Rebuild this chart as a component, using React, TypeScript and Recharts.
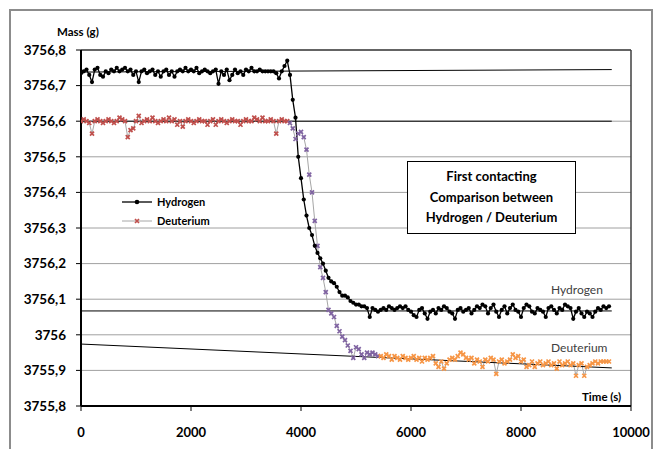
import React from 'react';
import { ComposedChart, Line, XAxis, YAxis, CartesianGrid, ReferenceLine } from 'recharts';

// sampling interval of the mass readings (s)
const SAMPLE_STEP_S = 50;

// Hydrogen mass readings (g), one every SAMPLE_STEP_S seconds starting at 0 s
const hydrogenMass = [
  3756.735, 3756.74, 3756.745, 3756.73, 3756.71, 3756.745, 3756.75, 3756.73, 3756.725, 3756.74,
  3756.735, 3756.745, 3756.74, 3756.75, 3756.74, 3756.745, 3756.75, 3756.74, 3756.745, 3756.73,
  3756.74, 3756.71, 3756.74, 3756.745, 3756.735, 3756.74, 3756.745, 3756.73, 3756.74, 3756.725,
  3756.74, 3756.745, 3756.73, 3756.74, 3756.725, 3756.74, 3756.745, 3756.74, 3756.75, 3756.74,
  3756.745, 3756.74, 3756.75, 3756.735, 3756.74, 3756.745, 3756.74, 3756.735, 3756.74, 3756.745,
  3756.705, 3756.74, 3756.73, 3756.745, 3756.715, 3756.73, 3756.745, 3756.735, 3756.74, 3756.73,
  3756.745, 3756.74, 3756.75, 3756.74, 3756.74, 3756.745, 3756.74, 3756.74, 3756.74, 3756.74,
  3756.74, 3756.735, 3756.72, 3756.74, 3756.755, 3756.77,
  3756.73, 3756.66, 3756.61, 3756.5, 3756.44, 3756.38, 3756.335, 3756.3, 3756.28, 3756.25,
  3756.23, 3756.215, 3756.2, 3756.18, 3756.16, 3756.15, 3756.145, 3756.135, 3756.12, 3756.11,
  3756.11, 3756.105, 3756.095, 3756.09, 3756.085, 3756.085, 3756.08, 3756.08, 3756.075, 3756.05,
  3756.075, 3756.07, 3756.065, 3756.07, 3756.075, 3756.07, 3756.08, 3756.075, 3756.07, 3756.075,
  3756.08, 3756.075, 3756.08, 3756.07, 3756.065, 3756.055, 3756.05, 3756.07, 3756.075, 3756.06,
  3756.045, 3756.065, 3756.07, 3756.06, 3756.075, 3756.07, 3756.08, 3756.075, 3756.065, 3756.06,
  3756.045, 3756.07, 3756.075, 3756.065, 3756.07, 3756.075, 3756.06, 3756.07, 3756.08, 3756.075,
  3756.085, 3756.08, 3756.06, 3756.075, 3756.085, 3756.065, 3756.05, 3756.07, 3756.08, 3756.06,
  3756.075, 3756.085, 3756.07, 3756.065, 3756.05, 3756.075, 3756.085, 3756.08, 3756.065, 3756.06,
  3756.075, 3756.07, 3756.065, 3756.05, 3756.075, 3756.08, 3756.07, 3756.06, 3756.075, 3756.07,
  3756.085, 3756.08, 3756.075, 3756.045, 3756.065, 3756.075, 3756.06, 3756.05, 3756.065, 3756.06,
  3756.05, 3756.065, 3756.075, 3756.07, 3756.08, 3756.075, 3756.08,
];

// Deuterium mass readings (g), one every SAMPLE_STEP_S seconds starting at 0 s
const deuteriumMass = [
  3756.6, 3756.605, 3756.6, 3756.595, 3756.565, 3756.6, 3756.605, 3756.6, 3756.595, 3756.6,
  3756.605, 3756.6, 3756.595, 3756.6, 3756.61, 3756.605, 3756.6, 3756.555, 3756.575, 3756.58,
  3756.6, 3756.615, 3756.595, 3756.6, 3756.605, 3756.6, 3756.61, 3756.6, 3756.595, 3756.6,
  3756.605, 3756.6, 3756.61, 3756.6, 3756.605, 3756.59, 3756.6, 3756.585, 3756.6, 3756.605,
  3756.6, 3756.595, 3756.6, 3756.605, 3756.6, 3756.6, 3756.59, 3756.6, 3756.605, 3756.59,
  3756.6, 3756.605, 3756.6, 3756.595, 3756.6, 3756.605, 3756.6, 3756.6, 3756.59, 3756.6,
  3756.605, 3756.6, 3756.6, 3756.61, 3756.605, 3756.6, 3756.61, 3756.6, 3756.6, 3756.605,
  3756.6, 3756.565, 3756.6, 3756.605, 3756.6, 3756.6,
  3756.595, 3756.58, 3756.55, 3756.565, 3756.57, 3756.555, 3756.52, 3756.45, 3756.4, 3756.32,
  3756.25, 3756.19, 3756.16, 3756.12, 3756.07, 3756.06, 3756.05, 3756.025, 3756.01, 3755.995,
  3755.985, 3755.97, 3755.955, 3755.935, 3755.965, 3755.96, 3755.945, 3755.935, 3755.95, 3755.945,
  3755.95, 3755.945, 3755.94,
  3755.94, 3755.935, 3755.945, 3755.94, 3755.93, 3755.94, 3755.935, 3755.93, 3755.94, 3755.935,
  3755.93, 3755.935, 3755.94, 3755.93, 3755.935, 3755.925, 3755.935, 3755.93, 3755.935, 3755.94,
  3755.92, 3755.91, 3755.925, 3755.905, 3755.92, 3755.93, 3755.935, 3755.93, 3755.94, 3755.95,
  3755.945, 3755.935, 3755.93, 3755.935, 3755.92, 3755.93, 3755.925, 3755.91, 3755.93, 3755.925,
  3755.935, 3755.93, 3755.89, 3755.925, 3755.93, 3755.92, 3755.925, 3755.93, 3755.945, 3755.935,
  3755.94, 3755.925, 3755.93, 3755.91, 3755.915, 3755.925, 3755.91, 3755.92, 3755.925, 3755.915,
  3755.92, 3755.925, 3755.915, 3755.92, 3755.905, 3755.925, 3755.915, 3755.92, 3755.925, 3755.915,
  3755.92, 3755.885, 3755.915, 3755.92, 3755.885, 3755.91, 3755.915, 3755.92, 3755.925, 3755.92,
  3755.925, 3755.925, 3755.925, 3755.925,
];

// Deuterium marker colour phases (end time in s of each phase)
const deuteriumPhases = [
  { until: 3750, color: '#c0504d' },
  { until: 5400, color: '#8064a2' },
  { until: 99999, color: '#f79646' },
];

// straight reference/trend lines (time s, mass g)
const trendTop = [{ t: 0, v: 3756.738 }, { t: 9650, v: 3756.745 }];
const trendMid = [{ t: 0, v: 3756.6 }, { t: 9650, v: 3756.6 }];
const trendHydrogen = [{ t: 0, v: 3756.067 }, { t: 9650, v: 3756.067 }];
const trendDeuterium = [{ t: 0, v: 3755.974 }, { t: 9650, v: 3755.907 }];

const xTicks = [0, 2000, 4000, 6000, 8000, 10000];
const yTicks = [3755.8, 3755.9, 3756, 3756.1, 3756.2, 3756.3, 3756.4, 3756.5, 3756.6, 3756.7, 3756.8];

const hydrogenData = hydrogenMass.map((v, i) => ({ t: i * SAMPLE_STEP_S, v }));
const deuteriumData = deuteriumMass.map((v, i) => ({ t: i * SAMPLE_STEP_S, v }));

const FONT = 'Lato, "Liberation Sans", sans-serif';

const fmtY = (v: number) => {
  const r = Number(v.toFixed(1));
  return Number.isInteger(r) ? String(r) : r.toFixed(1).replace('.', ',');
};

const phaseColor = (t: number) => {
  for (const p of deuteriumPhases) if (t <= p.until) return p.color;
  return deuteriumPhases[deuteriumPhases.length - 1].color;
};

const HydrogenDot = (props: any) => {
  const { cx, cy, index } = props;
  if (cx == null || cy == null) return <g key={`h${index}`} />;
  return <circle key={`h${index}`} cx={cx} cy={cy} r={2.1} fill="#000" stroke="none" />;
};

const DeuteriumDot = (props: any) => {
  const { cx, cy, index, payload } = props;
  if (cx == null || cy == null) return <g key={`d${index}`} />;
  const c = phaseColor(payload.t);
  const s = 2;
  return (
    <path
      key={`d${index}`}
      d={`M${cx - s},${cy - s}L${cx + s},${cy + s}M${cx + s},${cy - s}L${cx - s},${cy + s}`}
      stroke={c}
      strokeWidth={1.7}
      fill="none"
    />
  );
};

const abs = (style: React.CSSProperties): React.CSSProperties => ({ position: 'absolute', fontFamily: FONT, whiteSpace: 'nowrap', ...style });

export default function App() {
  return (
    <div style={{ position: 'absolute', left: 0, top: 0, width: 661, height: 449, overflow: 'hidden', background: '#fff' }}>
      <div style={{ position: 'absolute', left: 9, top: 9, width: 640, height: 460, border: '2px solid #8c8c8c' }} />
      <div style={{ position: 'absolute', left: 0, top: 0 }}>
        <ComposedChart width={661} height={449} margin={{ top: 50, right: 30, bottom: 13, left: 11 }}>
          <CartesianGrid horizontal vertical={false} stroke="#a0a0a0" strokeWidth={1} />
          <XAxis
            type="number"
            dataKey="t"
            domain={[0, 10000]}
            ticks={xTicks}
            allowDataOverflow
            height={30}
            tickSize={5}
            tickMargin={17}
            axisLine={{ stroke: '#000', strokeWidth: 2 }}
            tickLine={{ stroke: '#000', strokeWidth: 1 }}
            tick={{ fill: '#000', fontSize: 13, fontWeight: 700, fontFamily: FONT }}
          />
          <YAxis
            type="number"
            dataKey="v"
            domain={[3755.8, 3756.8]}
            ticks={yTicks}
            allowDataOverflow
            width={70}
            tickSize={5}
            tickMargin={10}
            tickFormatter={fmtY}
            axisLine={{ stroke: '#000', strokeWidth: 2 }}
            tickLine={{ stroke: '#000', strokeWidth: 1 }}
            tick={{ fill: '#000', fontSize: 13.5, fontWeight: 700, fontFamily: FONT }}
          />
          <ReferenceLine y={3756.8} stroke="#404040" strokeWidth={1.5} />
          <ReferenceLine x={10000} stroke="#404040" strokeWidth={1.5} />
          <Line data={deuteriumData} dataKey="v" stroke="#a6a6a6" strokeWidth={1} dot={DeuteriumDot} activeDot={false} isAnimationActive={false} />
          <Line data={trendTop} dataKey="v" stroke="#000" strokeWidth={1} dot={false} activeDot={false} isAnimationActive={false} />
          <Line data={trendMid} dataKey="v" stroke="#000" strokeWidth={1} dot={false} activeDot={false} isAnimationActive={false} />
          <Line data={trendHydrogen} dataKey="v" stroke="#000" strokeWidth={1} dot={false} activeDot={false} isAnimationActive={false} />
          <Line data={trendDeuterium} dataKey="v" stroke="#000" strokeWidth={1} dot={false} activeDot={false} isAnimationActive={false} />
          <Line data={hydrogenData} dataKey="v" stroke="#000" strokeWidth={1.3} dot={HydrogenDot} activeDot={false} isAnimationActive={false} />
        </ComposedChart>
      </div>

      {/* axis titles */}
      <div style={abs({ left: 57, top: 24, fontSize: 11.5, fontWeight: 700, lineHeight: '16px', color: '#000' })}>Mass (g)</div>
      <div style={abs({ left: 582, top: 389, fontSize: 11.5, fontWeight: 700, lineHeight: '16px', color: '#000' })}>Time (s)</div>

      {/* legend */}
      <svg style={{ position: 'absolute', left: 118, top: 194 }} width={40} height={36}>
        <line x1={4} y1={8} x2={34} y2={8} stroke="#000" strokeWidth={1.3} />
        <circle cx={19} cy={8} r={2.3} fill="#000" />
        <line x1={4} y1={27} x2={34} y2={27} stroke="#a6a6a6" strokeWidth={1} />
        <path d="M17,25L21,29M21,25L17,29" stroke="#c0504d" strokeWidth={1.7} />
      </svg>
      <div style={abs({ left: 157, top: 194, fontSize: 11, fontWeight: 700, lineHeight: '16px', color: '#000' })}>Hydrogen</div>
      <div style={abs({ left: 157, top: 213, fontSize: 11, fontWeight: 700, lineHeight: '16px', color: '#000' })}>Deuterium</div>

      {/* annotation box */}
      <div
        style={abs({
          left: 407,
          top: 161,
          width: 167,
          height: 67,
          border: '1px solid #000',
          background: '#fff',
          textAlign: 'center',
          fontSize: 13,
          fontWeight: 700,
          lineHeight: '20.5px',
          paddingTop: 4,
          boxSizing: 'content-box',
          color: '#000',
        })}
      >
        First contacting
        <br />
        Comparison between
        <br />
        Hydrogen / Deuterium
      </div>

      {/* series labels */}
      <div style={abs({ left: 551, top: 282, fontSize: 12, lineHeight: '16px', color: '#404040' })}>Hydrogen</div>
      <div style={abs({ left: 551, top: 340, fontSize: 12, lineHeight: '16px', color: '#404040' })}>Deuterium</div>
    </div>
  );
}
